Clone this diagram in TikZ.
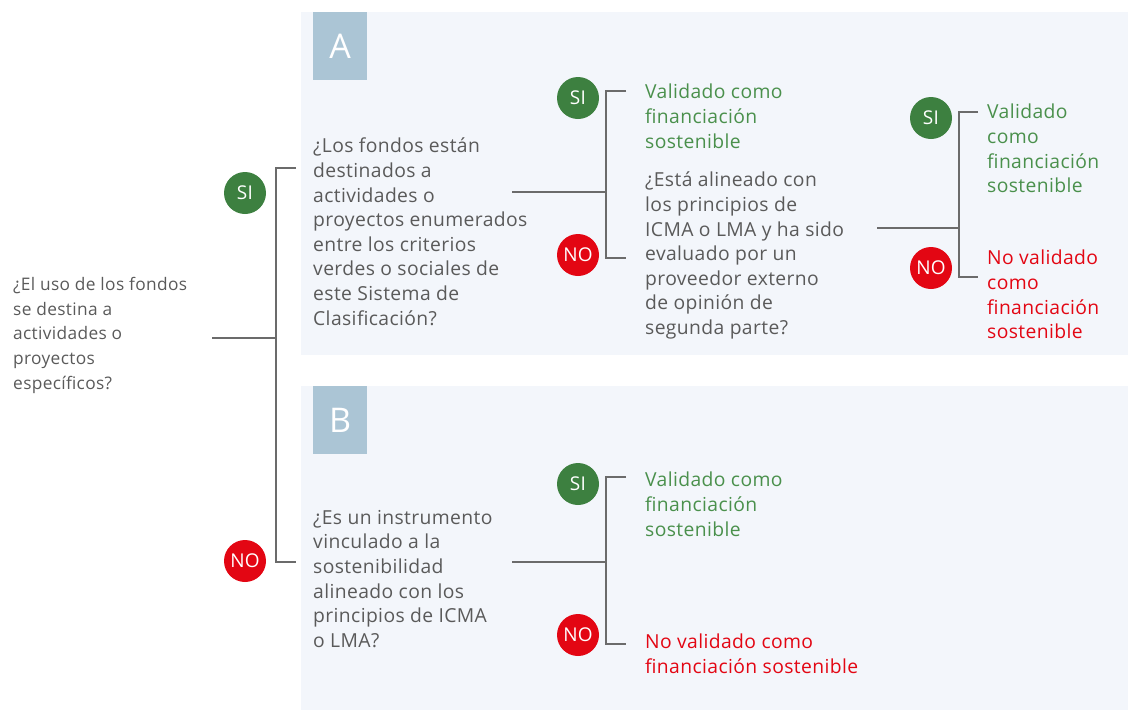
\documentclass[tikz,border=0pt]{standalone}
\usepackage{fontspec}
\setmainfont{Open Sans}[LetterSpace=2]
\usetikzlibrary{positioning}

\definecolor{txtgray}{HTML}{5A5A5A}
\definecolor{linegray}{HTML}{6B6B6B}
\definecolor{okgreen}{HTML}{3D8040}
\definecolor{oktext}{HTML}{4A904C}
\definecolor{badred}{HTML}{E30613}
\definecolor{panelbg}{HTML}{F3F6FB}
\definecolor{tagblue}{HTML}{ABC5D5}

\begin{document}
\begin{tikzpicture}[
  x=1pt, y=-1pt,
  question/.style={anchor=north west, inner sep=0pt, align=left, text=txtgray,
                   font=\fontsize{19.3}{24.6}\selectfont},
  start/.style   ={question, font=\fontsize{17.3}{24.7}\selectfont},
  valid/.style   ={question, text=oktext},
  invalid/.style ={question, text=badred},
  yes/.style     ={circle, fill=okgreen, text=white, minimum size=42pt, inner sep=0pt,
                   font=\fontsize{19}{19}\selectfont},
  no/.style      ={yes, fill=badred},
  tag/.style     ={anchor=north west, fill=tagblue, text=white, minimum width=54pt,
                   minimum height=68pt, inner sep=0pt, font=\fontsize{34}{34}\selectfont},
  tree/.style    ={draw=linegray, line width=1.4pt},
]
\useasboundingbox (0,0) rectangle (1128,710);

% ======================= panels =======================
\fill[panelbg] (301,12) rectangle (1128,355);
\fill[panelbg] (301,386) rectangle (1128,710);
\node[tag] (tagA) at (313,12)  {A};
\node[tag] (tagB) at (313,386) {B};

% ======================= first question =======================
\node[start] (qstart) at (13,277)
  {¿El uso de los fondos\\se destina a\\actividades o\\proyectos\\específicos?};
\coordinate (m0) at (212,338);
\coordinate (m1) at (276,338);
\coordinate (mA) at (296,168);
\coordinate (mB) at (296,562);
\draw[tree] (m0) -- (m1);
\draw[tree] (mA) -| (m1) |- (mB);
\node[yes] (siStart) at (245,193) {SI};
\node[no]  (noStart) at (245,561) {NO};

% ======================= Panel A =======================
\node[question] (qA) at (313,138)
  {¿Los fondos están\\destinados a\\actividades o\\proyectos enumerados\\entre los criterios\\verdes o sociales de\\este Sistema de\\Clasificación?};
\coordinate (a0) at (512,192);
\coordinate (a1) at (606,192);
\coordinate (aS) at (626,91);
\coordinate (aN) at (626,258);
\draw[tree] (a0) -- (a1);
\draw[tree] (aS) -| (a1) |- (aN);
\node[yes] (siA) at (578,98)  {SI};
\node[no]  (noA) at (578,255) {NO};
\node[valid] (okA) at (645,84)
  {Validado como\\financiación\\sostenible};

\node[question] (qA2) at (645,172)
  {¿Está alineado con\\los principios de\\ICMA o LMA y ha sido\\evaluado por un\\proveedor externo\\de opinión de\\segunda parte?};
\coordinate (c0) at (877,228);
\coordinate (c1) at (959,228);
\coordinate (cS) at (978,112);
\coordinate (cN) at (978,277);
\draw[tree] (c0) -- (c1);
\draw[tree] (cS) -| (c1) |- (cN);
\node[yes] (siA2) at (931,118) {SI};
\node[no]  (noA2) at (931,268) {NO};
\node[valid]   (okA2)  at (987,104)
  {Validado\\como\\financiación\\sostenible};
\node[invalid] (badA2) at (987,250)
  {No validado\\como\\financiación\\sostenible};

% ======================= Panel B =======================
\node[question] (qB) at (313,510)
  {¿Es un instrumento\\vinculado a la\\sostenibilidad\\alineado con los\\principios de ICMA\\o LMA?};
\coordinate (b0) at (512,562);
\coordinate (b1) at (606,562);
\coordinate (bS) at (626,477);
\coordinate (bN) at (626,644);
\draw[tree] (b0) -- (b1);
\draw[tree] (bS) -| (b1) |- (bN);
\node[yes] (siB) at (578,484) {SI};
\node[no]  (noB) at (578,635) {NO};
\node[valid]   (okB)  at (645,472)
  {Validado como\\financiación\\sostenible};
\node[invalid] (badB) at (645,634)
  {No validado como\\financiación sostenible};
\end{tikzpicture}
\end{document}
